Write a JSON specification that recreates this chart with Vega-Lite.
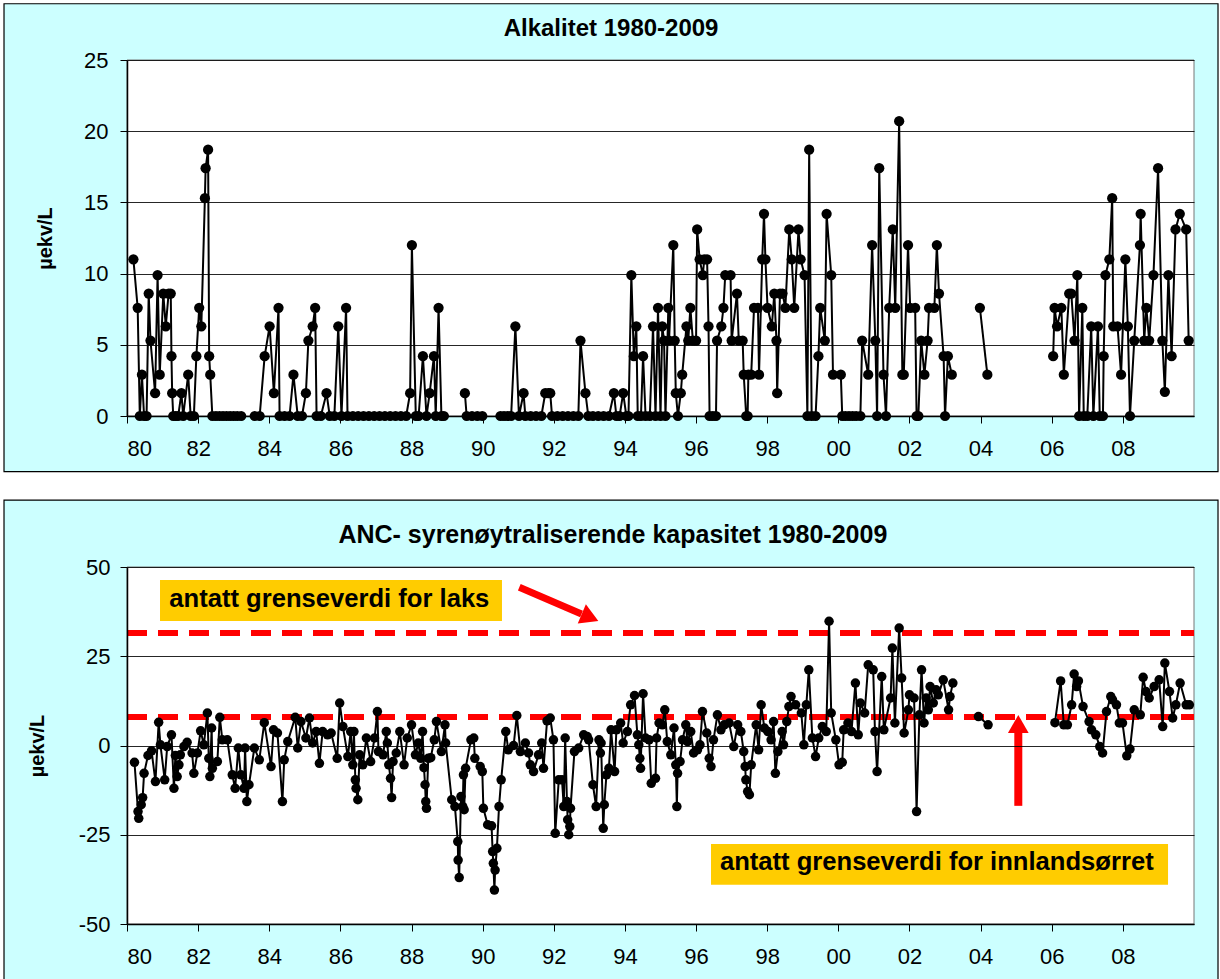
{
"$schema":"https://vega.github.io/schema/vega-lite/v6.json",
"background":"white",
"padding":{"left":3,"top":3,"right":3,"bottom":2},
"spacing":26,
"config":{
 "font":"Liberation Sans",
 "view":{"stroke":null},
 "axis":{"labelFont":"Liberation Sans","labelFontSize":22,"labelColor":"black","tickColor":"black","tickSize":7,"tickWidth":1,"domainColor":"black","domainWidth":1.5,"gridColor":"black","gridWidth":1,"gridOpacity":0.85,"titleFont":"Liberation Sans","titleFontSize":20,"titleFontWeight":"bold","titleColor":"black"}
},
"datasets":{
"alk":[
{"t":80.18,"v":11,"s":1},{"t":80.30,"v":7.6,"s":1},{"t":80.36,"v":0,"s":1},{"t":80.42,"v":2.9,"s":1},{"t":80.48,"v":0,"s":1},{"t":80.55,"v":0,"s":1},{"t":80.61,"v":8.6,"s":1},{"t":80.66,"v":5.3,"s":1},{"t":80.79,"v":1.6,"s":1},{"t":80.86,"v":9.9,"s":1},{"t":80.92,"v":2.9,"s":1},{"t":81.02,"v":8.6,"s":1},{"t":81.09,"v":6.3,"s":1},{"t":81.17,"v":8.6,"s":1},{"t":81.23,"v":8.6,"s":1},{"t":81.25,"v":4.2,"s":1},{"t":81.27,"v":1.6,"s":1},{"t":81.30,"v":0,"s":1},{"t":81.37,"v":0,"s":1},{"t":81.44,"v":0,"s":1},{"t":81.53,"v":1.6,"s":1},{"t":81.58,"v":0,"s":1},{"t":81.72,"v":2.9,"s":1},{"t":81.79,"v":0,"s":1},{"t":81.88,"v":0,"s":1},{"t":81.95,"v":4.2,"s":1},{"t":82.03,"v":7.6,"s":1},{"t":82.09,"v":6.3,"s":1},{"t":82.19,"v":15.3,"s":1},{"t":82.21,"v":17.4,"s":1},{"t":82.28,"v":18.7,"s":1},{"t":82.31,"v":4.2,"s":1},{"t":82.34,"v":2.9,"s":1},{"t":82.40,"v":0,"s":1},{"t":82.50,"v":0,"s":1},{"t":82.60,"v":0,"s":1},{"t":82.70,"v":0,"s":1},{"t":82.80,"v":0,"s":1},{"t":82.90,"v":0,"s":1},{"t":83.00,"v":0,"s":1},{"t":83.10,"v":0,"s":1},{"t":83.21,"v":0,"s":1},
{"t":83.59,"v":0,"s":2},{"t":83.73,"v":0,"s":2},{"t":83.87,"v":4.2,"s":2},{"t":84.01,"v":6.3,"s":2},{"t":84.13,"v":1.6,"s":2},{"t":84.26,"v":7.6,"s":2},{"t":84.29,"v":0,"s":2},{"t":84.43,"v":0,"s":2},{"t":84.57,"v":0,"s":2},{"t":84.68,"v":2.9,"s":2},{"t":84.80,"v":0,"s":2},{"t":84.92,"v":0,"s":2},{"t":85.03,"v":1.6,"s":2},{"t":85.10,"v":5.3,"s":2},{"t":85.22,"v":6.3,"s":2},{"t":85.29,"v":7.6,"s":2},{"t":85.33,"v":0,"s":2},{"t":85.45,"v":0,"s":2},{"t":85.61,"v":1.6,"s":2},{"t":85.70,"v":0,"s":2},{"t":85.83,"v":0,"s":2},{"t":85.94,"v":6.3,"s":2},{"t":86.03,"v":0,"s":2},{"t":86.16,"v":7.6,"s":2},{"t":86.20,"v":0,"s":2},{"t":86.35,"v":0,"s":2},{"t":86.50,"v":0,"s":2},{"t":86.65,"v":0,"s":2},{"t":86.80,"v":0,"s":2},{"t":86.95,"v":0,"s":2},{"t":87.10,"v":0,"s":2},{"t":87.25,"v":0,"s":2},{"t":87.40,"v":0,"s":2},{"t":87.55,"v":0,"s":2},{"t":87.70,"v":0,"s":2},{"t":87.85,"v":0,"s":2},{"t":87.96,"v":1.6,"s":2},{"t":88.01,"v":12,"s":2},{"t":88.12,"v":0,"s":2},{"t":88.20,"v":0,"s":2},{"t":88.32,"v":4.2,"s":2},{"t":88.42,"v":0,"s":2},{"t":88.51,"v":1.6,"s":2},{"t":88.63,"v":4.2,"s":2},{"t":88.68,"v":0,"s":2},{"t":88.76,"v":7.6,"s":2},{"t":88.84,"v":0,"s":2},{"t":88.91,"v":0,"s":2},
{"t":89.50,"v":1.6,"s":3},{"t":89.55,"v":0,"s":3},{"t":89.70,"v":0,"s":3},{"t":89.85,"v":0,"s":3},{"t":89.99,"v":0,"s":3},
{"t":90.50,"v":0,"s":4},{"t":90.60,"v":0,"s":4},{"t":90.70,"v":0,"s":4},{"t":90.80,"v":0,"s":4},{"t":90.92,"v":6.3,"s":4},{"t":91.02,"v":0,"s":4},{"t":91.15,"v":1.6,"s":4},{"t":91.20,"v":0,"s":4},{"t":91.35,"v":0,"s":4},{"t":91.50,"v":0,"s":4},{"t":91.65,"v":0,"s":4},{"t":91.76,"v":1.6,"s":4},{"t":91.85,"v":1.6,"s":4},{"t":91.90,"v":1.6,"s":4},{"t":91.95,"v":0,"s":4},{"t":92.10,"v":0,"s":4},{"t":92.25,"v":0,"s":4},{"t":92.40,"v":0,"s":4},{"t":92.55,"v":0,"s":4},{"t":92.69,"v":0,"s":4},{"t":92.75,"v":5.3,"s":4},{"t":92.89,"v":1.6,"s":4},{"t":92.97,"v":0,"s":4},{"t":93.10,"v":0,"s":4},{"t":93.25,"v":0,"s":4},{"t":93.40,"v":0,"s":4},{"t":93.55,"v":0,"s":4},{"t":93.69,"v":1.6,"s":4},{"t":93.76,"v":0,"s":4},{"t":93.85,"v":0,"s":4},{"t":93.95,"v":1.6,"s":4},{"t":94.04,"v":0,"s":4},{"t":94.10,"v":0,"s":4},{"t":94.18,"v":9.9,"s":4},{"t":94.25,"v":4.2,"s":4},{"t":94.32,"v":6.3,"s":4},{"t":94.36,"v":0,"s":4},{"t":94.45,"v":0,"s":4},{"t":94.51,"v":4.2,"s":4},{"t":94.58,"v":0,"s":4},{"t":94.70,"v":0,"s":4},{"t":94.79,"v":6.3,"s":4},{"t":94.86,"v":0,"s":4},{"t":94.93,"v":7.6,"s":4},{"t":95.00,"v":0,"s":4},{"t":95.05,"v":6.3,"s":4},{"t":95.10,"v":5.3,"s":4},{"t":95.14,"v":0,"s":4},{"t":95.22,"v":7.6,"s":4},{"t":95.24,"v":5.3,"s":4},{"t":95.36,"v":12,"s":4},{"t":95.40,"v":5.3,"s":4},{"t":95.43,"v":1.6,"s":4},{"t":95.49,"v":0,"s":4},{"t":95.57,"v":1.6,"s":4},{"t":95.61,"v":2.9,"s":4},{"t":95.73,"v":6.3,"s":4},{"t":95.78,"v":5.3,"s":4},{"t":95.84,"v":7.6,"s":4},{"t":95.91,"v":5.3,"s":4},{"t":96.00,"v":5.3,"s":4},{"t":96.03,"v":13.1,"s":4},{"t":96.10,"v":11,"s":4},{"t":96.19,"v":9.9,"s":4},{"t":96.23,"v":11,"s":4},{"t":96.31,"v":11,"s":4},{"t":96.35,"v":6.3,"s":4},{"t":96.38,"v":0,"s":4},{"t":96.47,"v":0,"s":4},{"t":96.56,"v":0,"s":4},{"t":96.59,"v":5.3,"s":4},{"t":96.71,"v":6.3,"s":4},{"t":96.77,"v":7.6,"s":4},{"t":96.82,"v":9.9,"s":4},{"t":96.97,"v":9.9,"s":4},{"t":97.00,"v":5.3,"s":4},{"t":97.15,"v":8.6,"s":4},{"t":97.20,"v":5.3,"s":4},{"t":97.31,"v":5.3,"s":4},{"t":97.34,"v":2.9,"s":4},{"t":97.41,"v":0,"s":4},{"t":97.45,"v":0,"s":4},{"t":97.47,"v":2.9,"s":4},{"t":97.55,"v":2.9,"s":4},{"t":97.63,"v":7.6,"s":4},{"t":97.74,"v":7.6,"s":4},{"t":97.77,"v":2.9,"s":4},{"t":97.86,"v":11,"s":4},{"t":97.91,"v":14.2,"s":4},{"t":97.95,"v":11,"s":4},{"t":98.01,"v":7.6,"s":4},{"t":98.13,"v":6.3,"s":4},{"t":98.20,"v":8.6,"s":4},{"t":98.26,"v":5.3,"s":4},{"t":98.28,"v":1.6,"s":4},{"t":98.36,"v":8.6,"s":4},{"t":98.43,"v":8.6,"s":4},{"t":98.51,"v":7.6,"s":4},{"t":98.62,"v":13.1,"s":4},{"t":98.69,"v":11,"s":4},{"t":98.76,"v":7.6,"s":4},{"t":98.88,"v":13.1,"s":4},{"t":98.94,"v":11,"s":4},{"t":99.05,"v":9.9,"s":4},{"t":99.13,"v":0,"s":4},{"t":99.18,"v":18.7,"s":4},{"t":99.25,"v":0,"s":4},{"t":99.36,"v":0,"s":4},{"t":99.44,"v":4.2,"s":4},{"t":99.49,"v":7.6,"s":4},{"t":99.62,"v":5.3,"s":4},{"t":99.67,"v":14.2,"s":4},{"t":99.80,"v":9.9,"s":4},{"t":99.85,"v":2.9,"s":4},{"t":100.07,"v":2.9,"s":4},{"t":100.11,"v":0,"s":4},{"t":100.20,"v":0,"s":4},{"t":100.30,"v":0,"s":4},{"t":100.40,"v":0,"s":4},{"t":100.50,"v":0,"s":4},{"t":100.62,"v":0,"s":4},{"t":100.67,"v":5.3,"s":4},{"t":100.84,"v":2.9,"s":4},{"t":100.95,"v":12,"s":4},{"t":101.04,"v":5.3,"s":4},{"t":101.09,"v":0,"s":4},{"t":101.15,"v":17.4,"s":4},{"t":101.27,"v":2.9,"s":4},{"t":101.34,"v":0,"s":4},{"t":101.43,"v":7.6,"s":4},{"t":101.53,"v":13.1,"s":4},{"t":101.60,"v":7.6,"s":4},{"t":101.71,"v":20.7,"s":4},{"t":101.80,"v":2.9,"s":4},{"t":101.84,"v":2.9,"s":4},{"t":101.96,"v":12,"s":4},{"t":102.02,"v":7.6,"s":4},{"t":102.16,"v":7.6,"s":4},{"t":102.20,"v":0,"s":4},{"t":102.25,"v":0,"s":4},{"t":102.33,"v":5.3,"s":4},{"t":102.42,"v":2.9,"s":4},{"t":102.51,"v":5.3,"s":4},{"t":102.55,"v":7.6,"s":4},{"t":102.70,"v":7.6,"s":4},{"t":102.77,"v":12,"s":4},{"t":102.83,"v":8.6,"s":4},{"t":102.96,"v":4.2,"s":4},{"t":103.00,"v":0,"s":4},{"t":103.08,"v":4.2,"s":4},{"t":103.19,"v":2.9,"s":4},
{"t":103.98,"v":7.6,"s":5},{"t":104.19,"v":2.9,"s":5},
{"t":106.04,"v":4.2,"s":6},{"t":106.08,"v":7.6,"s":6},{"t":106.15,"v":6.3,"s":6},{"t":106.27,"v":7.6,"s":6},{"t":106.34,"v":2.9,"s":6},{"t":106.49,"v":8.6,"s":6},{"t":106.55,"v":8.6,"s":6},{"t":106.64,"v":5.3,"s":6},{"t":106.72,"v":9.9,"s":6},{"t":106.77,"v":0,"s":6},{"t":106.86,"v":7.6,"s":6},{"t":106.90,"v":0,"s":6},{"t":107.00,"v":0,"s":6},{"t":107.11,"v":6.3,"s":6},{"t":107.17,"v":0,"s":6},{"t":107.30,"v":6.3,"s":6},{"t":107.35,"v":0,"s":6},{"t":107.44,"v":0,"s":6},{"t":107.46,"v":4.2,"s":6},{"t":107.51,"v":9.9,"s":6},{"t":107.62,"v":11,"s":6},{"t":107.70,"v":15.3,"s":6},{"t":107.73,"v":6.3,"s":6},{"t":107.85,"v":6.3,"s":6},{"t":107.95,"v":2.9,"s":6},{"t":108.07,"v":11,"s":6},{"t":108.14,"v":6.3,"s":6},{"t":108.20,"v":0,"s":6},{"t":108.32,"v":5.3,"s":6},{"t":108.48,"v":12,"s":6},{"t":108.50,"v":14.2,"s":6},{"t":108.60,"v":5.3,"s":6},{"t":108.66,"v":7.6,"s":6},{"t":108.74,"v":5.3,"s":6},{"t":108.86,"v":9.9,"s":6},{"t":108.99,"v":17.4,"s":6},{"t":109.11,"v":5.3,"s":6},{"t":109.18,"v":1.7,"s":6},{"t":109.28,"v":9.9,"s":6},{"t":109.37,"v":4.2,"s":6},{"t":109.48,"v":13.1,"s":6},{"t":109.60,"v":14.2,"s":6},{"t":109.78,"v":13.1,"s":6},{"t":109.85,"v":5.3,"s":6}
],
"anc":[
{"t":80.21,"v":-4.7,"s":1},{"t":80.31,"v":-18.5,"s":1},{"t":80.33,"v":-20.4,"s":1},{"t":80.40,"v":-16.6,"s":1},{"t":80.44,"v":-14.6,"s":1},{"t":80.48,"v":-7.8,"s":1},{"t":80.59,"v":-2.8,"s":1},{"t":80.69,"v":-1.5,"s":1},{"t":80.80,"v":-10.1,"s":1},{"t":80.89,"v":6.5,"s":1},{"t":80.94,"v":0.2,"s":1},{"t":81.06,"v":-9.6,"s":1},{"t":81.13,"v":-0.3,"s":1},{"t":81.25,"v":3.0,"s":1},{"t":81.32,"v":-12.0,"s":1},{"t":81.36,"v":-2.8,"s":1},{"t":81.41,"v":-8.7,"s":1},{"t":81.46,"v":-5.4,"s":1},{"t":81.50,"v":-2.6,"s":1},{"t":81.60,"v":-0.3,"s":1},{"t":81.69,"v":0.9,"s":1},{"t":81.83,"v":-2.1,"s":1},{"t":81.88,"v":-7.8,"s":1},{"t":81.98,"v":-2.1,"s":1},{"t":82.07,"v":4.1,"s":1},{"t":82.16,"v":0.2,"s":1},{"t":82.26,"v":9.1,"s":1},{"t":82.30,"v":-3.6,"s":1},{"t":82.33,"v":-8.7,"s":1},{"t":82.38,"v":4.9,"s":1},{"t":82.40,"v":-6.4,"s":1},{"t":82.54,"v":-4.5,"s":1},{"t":82.61,"v":7.9,"s":1},{"t":82.68,"v":1.6,"s":1},{"t":82.82,"v":1.6,"s":1},{"t":82.96,"v":-8.2,"s":1},{"t":83.04,"v":-12.0,"s":1},{"t":83.13,"v":-0.7,"s":1},{"t":83.20,"v":-8.2,"s":1},{"t":83.29,"v":-12.0,"s":1},{"t":83.32,"v":-0.7,"s":1},{"t":83.37,"v":-15.7,"s":1},{"t":83.43,"v":-11.0,"s":1},{"t":83.58,"v":-0.7,"s":1},{"t":83.72,"v":-4.0,"s":1},{"t":83.86,"v":6.4,"s":1},{"t":84.05,"v":-5.9,"s":1},{"t":84.12,"v":4.4,"s":1},{"t":84.23,"v":3.5,"s":1},{"t":84.37,"v":-15.7,"s":1},{"t":84.42,"v":-4.0,"s":1},{"t":84.52,"v":1.1,"s":1},{"t":84.73,"v":7.9,"s":1},{"t":84.80,"v":-0.7,"s":1},{"t":84.89,"v":6.7,"s":1},{"t":85.03,"v":2.1,"s":1},{"t":85.13,"v":7.7,"s":1},{"t":85.22,"v":0.7,"s":1},{"t":85.32,"v":3.9,"s":1},{"t":85.41,"v":-5.0,"s":1},{"t":85.50,"v":3.9,"s":1},{"t":85.64,"v":3.0,"s":1},{"t":85.74,"v":3.5,"s":1},{"t":85.91,"v":-3.6,"s":1},{"t":85.98,"v":11.9,"s":1},{"t":86.07,"v":5.3,"s":1},{"t":86.21,"v":-3.1,"s":1},{"t":86.29,"v":3.9,"s":1},{"t":86.35,"v":-5.4,"s":1},{"t":86.38,"v":3.9,"s":1},{"t":86.42,"v":-9.6,"s":1},{"t":86.44,"v":-12.0,"s":1},{"t":86.49,"v":-15.2,"s":1},{"t":86.54,"v":-2.6,"s":1},{"t":86.63,"v":-5.4,"s":1},{"t":86.73,"v":2.1,"s":1},{"t":86.85,"v":-4.5,"s":1},{"t":86.96,"v":2.1,"s":1},{"t":87.04,"v":9.5,"s":1},{"t":87.07,"v":-1.7,"s":1},{"t":87.20,"v":-2.6,"s":1},{"t":87.29,"v":3.9,"s":1},{"t":87.32,"v":0.7,"s":1},{"t":87.36,"v":-5.4,"s":1},{"t":87.41,"v":-9.2,"s":1},{"t":87.44,"v":-14.6,"s":1},{"t":87.48,"v":-4.5,"s":1},{"t":87.57,"v":-2.1,"s":1},{"t":87.67,"v":3.9,"s":1},{"t":87.79,"v":-5.4,"s":1},{"t":87.88,"v":2.1,"s":1},{"t":88.00,"v":5.8,"s":1},{"t":88.11,"v":-2.6,"s":1},{"t":88.19,"v":0.7,"s":1},{"t":88.26,"v":-3.6,"s":1},{"t":88.31,"v":3.9,"s":1},{"t":88.35,"v":-6.2,"s":1},{"t":88.38,"v":-11.0,"s":1},{"t":88.40,"v":-15.7,"s":1},{"t":88.42,"v":-17.6,"s":1},{"t":88.47,"v":-3.6,"s":1},{"t":88.54,"v":-3.4,"s":1},{"t":88.64,"v":1.6,"s":1},{"t":88.70,"v":6.7,"s":1},{"t":88.84,"v":-1.7,"s":1},{"t":88.94,"v":5.8,"s":1},{"t":88.96,"v":0.7,"s":1},{"t":89.13,"v":-15.2,"s":1},{"t":89.22,"v":-17.1,"s":1},{"t":89.30,"v":-26.9,"s":1},{"t":89.31,"v":-32.1,"s":1},{"t":89.34,"v":-37.0,"s":1},{"t":89.39,"v":-14.3,"s":1},{"t":89.44,"v":-17.1,"s":1},{"t":89.46,"v":-8.2,"s":1},{"t":89.48,"v":-18.0,"s":1},{"t":89.52,"v":-6.4,"s":1},{"t":89.67,"v":1.6,"s":1},{"t":89.75,"v":2.1,"s":1},{"t":89.78,"v":-3.6,"s":1},{"t":89.93,"v":-5.9,"s":1},{"t":89.99,"v":-7.3,"s":1},{"t":90.02,"v":-17.6,"s":1},{"t":90.14,"v":-22.2,"s":1},{"t":90.25,"v":-22.5,"s":1},{"t":90.28,"v":-29.7,"s":1},{"t":90.30,"v":-33.0,"s":1},{"t":90.33,"v":-40.5,"s":1},{"t":90.35,"v":-34.9,"s":1},{"t":90.40,"v":-28.8,"s":1},{"t":90.46,"v":-17.1,"s":1},{"t":90.52,"v":-9.6,"s":1},{"t":90.65,"v":3.9,"s":1},{"t":90.72,"v":-1.2,"s":1},{"t":90.87,"v":0.0,"s":1},{"t":90.96,"v":8.4,"s":1},{"t":91.06,"v":-1.7,"s":1},{"t":91.20,"v":0.7,"s":1},{"t":91.29,"v":-2.1,"s":1},{"t":91.34,"v":-5.4,"s":1},{"t":91.43,"v":-7.3,"s":1},{"t":91.57,"v":-2.6,"s":1},{"t":91.66,"v":0.7,"s":1},{"t":91.71,"v":-6.4,"s":1},{"t":91.81,"v":6.9,"s":1},{"t":91.90,"v":7.7,"s":1},{"t":91.99,"v":1.6,"s":1},{"t":92.04,"v":-24.6,"s":1},{"t":92.14,"v":-9.6,"s":1},{"t":92.23,"v":-9.6,"s":1},{"t":92.28,"v":-17.1,"s":1},{"t":92.32,"v":2.1,"s":1},{"t":92.37,"v":-15.7,"s":1},{"t":92.39,"v":-20.8,"s":1},{"t":92.42,"v":-25.0,"s":1},{"t":92.45,"v":-22.7,"s":1},{"t":92.47,"v":-17.6,"s":1},{"t":92.58,"v":-1.7,"s":1},{"t":92.70,"v":-0.7,"s":1},{"t":92.84,"v":3.0,"s":1},{"t":92.94,"v":2.5,"s":1},{"t":92.98,"v":1.6,"s":1},{"t":93.10,"v":-11.0,"s":1},{"t":93.19,"v":-17.1,"s":1},{"t":93.27,"v":1.6,"s":1},{"t":93.31,"v":-2.1,"s":1},{"t":93.33,"v":0.7,"s":1},{"t":93.39,"v":-23.2,"s":1},{"t":93.42,"v":-16.6,"s":1},{"t":93.48,"v":-8.2,"s":1},{"t":93.55,"v":-6.4,"s":1},{"t":93.61,"v":4.4,"s":1},{"t":93.71,"v":-7.3,"s":1},{"t":93.76,"v":4.4,"s":1},{"t":93.88,"v":6.3,"s":1},{"t":93.95,"v":0.7,"s":1},{"t":94.07,"v":3.9,"s":1},{"t":94.16,"v":11.4,"s":1},{"t":94.27,"v":14.0,"s":1},{"t":94.35,"v":3.0,"s":1},{"t":94.39,"v":0.2,"s":1},{"t":94.42,"v":-3.6,"s":1},{"t":94.44,"v":-6.4,"s":1},{"t":94.51,"v":14.5,"s":1},{"t":94.58,"v":2.1,"s":1},{"t":94.68,"v":1.6,"s":1},{"t":94.74,"v":-10.6,"s":1},{"t":94.86,"v":-9.2,"s":1},{"t":94.89,"v":2.1,"s":1},{"t":94.96,"v":6.3,"s":1},{"t":95.05,"v":5.8,"s":1},{"t":95.12,"v":10.0,"s":1},{"t":95.19,"v":1.1,"s":1},{"t":95.29,"v":-2.6,"s":1},{"t":95.38,"v":4.9,"s":1},{"t":95.43,"v":-5.4,"s":1},{"t":95.46,"v":-17.1,"s":1},{"t":95.48,"v":-7.8,"s":1},{"t":95.55,"v":-4.5,"s":1},{"t":95.62,"v":1.6,"s":1},{"t":95.71,"v":5.8,"s":1},{"t":95.76,"v":1.1,"s":1},{"t":95.85,"v":3.9,"s":1},{"t":95.93,"v":-2.1,"s":1},{"t":96.04,"v":-1.2,"s":1},{"t":96.11,"v":0.2,"s":1},{"t":96.18,"v":9.5,"s":1},{"t":96.30,"v":3.5,"s":1},{"t":96.37,"v":-3.6,"s":1},{"t":96.42,"v":-5.9,"s":1},{"t":96.49,"v":1.6,"s":1},{"t":96.60,"v":8.6,"s":1},{"t":96.70,"v":4.4,"s":1},{"t":96.79,"v":5.8,"s":1},{"t":96.93,"v":6.3,"s":1},{"t":97.06,"v":-0.3,"s":1},{"t":97.17,"v":5.8,"s":1},{"t":97.26,"v":3.9,"s":1},{"t":97.34,"v":-1.7,"s":1},{"t":97.38,"v":-5.9,"s":1},{"t":97.40,"v":-9.6,"s":1},{"t":97.45,"v":-12.9,"s":1},{"t":97.50,"v":-13.8,"s":1},{"t":97.55,"v":-5.4,"s":1},{"t":97.69,"v":5.8,"s":1},{"t":97.76,"v":-1.2,"s":1},{"t":97.83,"v":11.4,"s":1},{"t":97.92,"v":4.9,"s":1},{"t":98.02,"v":3.9,"s":1},{"t":98.11,"v":1.6,"s":1},{"t":98.18,"v":6.7,"s":1},{"t":98.23,"v":-7.8,"s":1},{"t":98.30,"v":-1.7,"s":1},{"t":98.42,"v":3.9,"s":1},{"t":98.46,"v":0.2,"s":1},{"t":98.55,"v":6.7,"s":1},{"t":98.61,"v":10.9,"s":1},{"t":98.67,"v":13.7,"s":1},{"t":98.80,"v":11.4,"s":1},{"t":98.96,"v":9.1,"s":1},{"t":99.03,"v":0.2,"s":1},{"t":99.10,"v":11.4,"s":1},{"t":99.17,"v":21.2,"s":1},{"t":99.27,"v":2.1,"s":1},{"t":99.36,"v":-3.1,"s":1},{"t":99.45,"v":2.1,"s":1},{"t":99.55,"v":5.3,"s":1},{"t":99.66,"v":3.9,"s":1},{"t":99.74,"v":34.8,"s":1},{"t":99.80,"v":9.1,"s":1},{"t":99.93,"v":1.6,"s":1},{"t":100.02,"v":-5.4,"s":1},{"t":100.11,"v":-4.7,"s":1},{"t":100.15,"v":4.4,"s":1},{"t":100.27,"v":6.3,"s":1},{"t":100.37,"v":3.9,"s":1},{"t":100.48,"v":17.5,"s":1},{"t":100.56,"v":3.0,"s":1},{"t":100.62,"v":11.9,"s":1},{"t":100.74,"v":9.1,"s":1},{"t":100.84,"v":22.6,"s":1},{"t":100.98,"v":21.2,"s":1},{"t":101.03,"v":3.9,"s":1},{"t":101.09,"v":-7.3,"s":1},{"t":101.22,"v":19.3,"s":1},{"t":101.28,"v":4.4,"s":1},{"t":101.47,"v":13.3,"s":1},{"t":101.52,"v":27.3,"s":1},{"t":101.59,"v":6.3,"s":1},{"t":101.71,"v":32.9,"s":1},{"t":101.78,"v":18.9,"s":1},{"t":101.85,"v":3.5,"s":1},{"t":101.97,"v":10.0,"s":1},{"t":102.00,"v":14.2,"s":1},{"t":102.13,"v":13.3,"s":1},{"t":102.20,"v":-18.5,"s":1},{"t":102.28,"v":8.6,"s":1},{"t":102.34,"v":21.2,"s":1},{"t":102.41,"v":6.3,"s":1},{"t":102.47,"v":13.3,"s":1},{"t":102.53,"v":10.0,"s":1},{"t":102.58,"v":16.5,"s":1},{"t":102.67,"v":11.9,"s":1},{"t":102.75,"v":15.6,"s":1},{"t":102.81,"v":14.2,"s":1},{"t":102.95,"v":18.4,"s":1},{"t":103.10,"v":10.0,"s":1},{"t":103.14,"v":13.7,"s":1},{"t":103.22,"v":17.5,"s":1},
{"t":103.94,"v":8.1,"s":2},{"t":104.21,"v":5.8,"s":2},
{"t":106.09,"v":6.4,"s":3},{"t":106.25,"v":18.1,"s":3},{"t":106.34,"v":5.8,"s":3},{"t":106.44,"v":5.8,"s":3},{"t":106.56,"v":11.4,"s":3},{"t":106.63,"v":20.0,"s":3},{"t":106.70,"v":16.5,"s":3},{"t":106.75,"v":18.1,"s":3},{"t":106.88,"v":10.9,"s":3},{"t":107.05,"v":6.7,"s":3},{"t":107.12,"v":4.4,"s":3},{"t":107.24,"v":3.0,"s":3},{"t":107.35,"v":-0.3,"s":3},{"t":107.43,"v":-2.1,"s":3},{"t":107.54,"v":9.5,"s":3},{"t":107.66,"v":13.7,"s":3},{"t":107.71,"v":12.8,"s":3},{"t":107.82,"v":11.4,"s":3},{"t":107.90,"v":6.3,"s":3},{"t":107.99,"v":6.3,"s":3},{"t":108.11,"v":-2.9,"s":3},{"t":108.20,"v":-1.0,"s":3},{"t":108.32,"v":10.0,"s":3},{"t":108.49,"v":8.6,"s":3},{"t":108.57,"v":19.1,"s":3},{"t":108.65,"v":15.1,"s":3},{"t":108.74,"v":13.3,"s":3},{"t":108.88,"v":16.5,"s":3},{"t":109.02,"v":18.4,"s":3},{"t":109.12,"v":5.3,"s":3},{"t":109.18,"v":23.1,"s":3},{"t":109.31,"v":15.1,"s":3},{"t":109.40,"v":7.7,"s":3},{"t":109.49,"v":11.4,"s":3},{"t":109.61,"v":17.5,"s":3},{"t":109.78,"v":11.4,"s":3},{"t":109.87,"v":11.4,"s":3}
]
},
"vconcat":[
{
 "width":1067,"height":356,
 "layer":[
  {"data":{"values":[{}]},"mark":{"type":"rect","fill":"#CCFFFF","stroke":"black","strokeWidth":1.2},
   "encoding":{
    "x":{"datum":76.542,"type":"quantitative","scale":{"domain":[80,110],"nice":false,"zero":false},"axis":{"title":null,"zindex":1,"values":[80,82,84,86,88,90,92,94,96,98,100,102,104,106,108],"labelExpr":"datum.value >= 100 ? '0' + (datum.value - 100) : '' + datum.value","labelPadding":15,"grid":false}},
    "x2":{"datum":110.675},
    "y":{"datum":-3.91,"type":"quantitative","scale":{"domain":[0,25],"nice":false,"zero":false},"axis":{"title":"µekv/L","zindex":1,"values":[0,5,10,15,20,25],"labelExpr":"'' + datum.value","labelPadding":12,"titlePadding":28,"grid":true}},
    "y2":{"datum":28.95}}},
  {"data":{"values":[{}]},"mark":{"type":"rect","fill":"white","stroke":"#777777","strokeWidth":1},
   "encoding":{
    "x":{"datum":80,"type":"quantitative","scale":{"domain":[80,110],"nice":false,"zero":false},"axis":{"title":null,"zindex":1,"values":[80,82,84,86,88,90,92,94,96,98,100,102,104,106,108],"labelExpr":"datum.value >= 100 ? '0' + (datum.value - 100) : '' + datum.value","labelPadding":15,"grid":false}},
    "x2":{"datum":110},
    "y":{"datum":0,"type":"quantitative","scale":{"domain":[0,25],"nice":false,"zero":false},"axis":{"title":"µekv/L","zindex":1,"values":[0,5,10,15,20,25],"labelExpr":"'' + datum.value","labelPadding":12,"titlePadding":28,"grid":true}},
    "y2":{"datum":25}}},
  {"data":{"values":[{}]},"mark":{"type":"text","text":"Alkalitet 1980-2009","align":"center","baseline":"alphabetic","font":"Liberation Sans","fontSize":24,"fontWeight":"bold","color":"black"},
   "encoding":{
    "x":{"datum":93.61,"type":"quantitative","scale":{"domain":[80,110],"nice":false,"zero":false},"axis":{"title":null,"zindex":1,"values":[80,82,84,86,88,90,92,94,96,98,100,102,104,106,108],"labelExpr":"datum.value >= 100 ? '0' + (datum.value - 100) : '' + datum.value","labelPadding":15,"grid":false}},
    "y":{"datum":26.68,"type":"quantitative","scale":{"domain":[0,25],"nice":false,"zero":false},"axis":{"title":"µekv/L","zindex":1,"values":[0,5,10,15,20,25],"labelExpr":"'' + datum.value","labelPadding":12,"titlePadding":28,"grid":true}}}},
  {"data":{"name":"alk"},"mark":{"type":"line","color":"black","strokeWidth":2,"point":{"filled":true,"size":105,"color":"black","opacity":1}},
   "encoding":{
    "x":{"field":"t","type":"quantitative","scale":{"domain":[80,110],"nice":false,"zero":false},"axis":{"title":null,"zindex":1,"values":[80,82,84,86,88,90,92,94,96,98,100,102,104,106,108],"labelExpr":"datum.value >= 100 ? '0' + (datum.value - 100) : '' + datum.value","labelPadding":15,"grid":false}},
    "y":{"field":"v","type":"quantitative","scale":{"domain":[0,25],"nice":false,"zero":false},"axis":{"title":"µekv/L","zindex":1,"values":[0,5,10,15,20,25],"labelExpr":"'' + datum.value","labelPadding":12,"titlePadding":28,"grid":true}},
    "detail":{"field":"s","type":"nominal"}}}
 ]
},
{
 "width":1067,"height":357,
 "layer":[
  {"data":{"values":[{}]},"mark":{"type":"rect","fill":"#CCFFFF","stroke":"black","strokeWidth":1.2},
   "encoding":{
    "x":{"datum":76.542,"type":"quantitative","scale":{"domain":[80,110],"nice":false,"zero":false},"axis":{"title":null,"zindex":1,"values":[80,82,84,86,88,90,92,94,96,98,100,102,104,106,108],"labelExpr":"datum.value >= 100 ? '0' + (datum.value - 100) : '' + datum.value","labelPadding":15,"grid":false}},
    "x2":{"datum":110.675},
    "y":{"datum":-65.68,"type":"quantitative","scale":{"domain":[-50,50],"nice":false,"zero":false},"axis":{"title":"µekv/L","zindex":1,"values":[-50,-25,0,25,50],"labelExpr":"'' + datum.value","labelPadding":10,"titlePadding":31,"grid":true}},
    "y2":{"datum":68.76}}},
  {"data":{"values":[{}]},"mark":{"type":"rect","fill":"white","stroke":"#777777","strokeWidth":1},
   "encoding":{
    "x":{"datum":80,"type":"quantitative","scale":{"domain":[80,110],"nice":false,"zero":false},"axis":{"title":null,"zindex":1,"values":[80,82,84,86,88,90,92,94,96,98,100,102,104,106,108],"labelExpr":"datum.value >= 100 ? '0' + (datum.value - 100) : '' + datum.value","labelPadding":15,"grid":false}},
    "x2":{"datum":110},
    "y":{"datum":-50,"type":"quantitative","scale":{"domain":[-50,50],"nice":false,"zero":false},"axis":{"title":"µekv/L","zindex":1,"values":[-50,-25,0,25,50],"labelExpr":"'' + datum.value","labelPadding":10,"titlePadding":31,"grid":true}},
    "y2":{"datum":50}}},
  {"data":{"values":[{}]},"mark":{"type":"text","text":"ANC- syrenøytraliserende kapasitet 1980-2009","align":"center","baseline":"alphabetic","font":"Liberation Sans","fontSize":25,"fontWeight":"bold","color":"black"},
   "encoding":{
    "x":{"datum":93.66,"type":"quantitative","scale":{"domain":[80,110],"nice":false,"zero":false},"axis":{"title":null,"zindex":1,"values":[80,82,84,86,88,90,92,94,96,98,100,102,104,106,108],"labelExpr":"datum.value >= 100 ? '0' + (datum.value - 100) : '' + datum.value","labelPadding":15,"grid":false}},
    "y":{"datum":56.86,"type":"quantitative","scale":{"domain":[-50,50],"nice":false,"zero":false},"axis":{"title":"µekv/L","zindex":1,"values":[-50,-25,0,25,50],"labelExpr":"'' + datum.value","labelPadding":10,"titlePadding":31,"grid":true}}}},
  {"data":{"values":[{}]},"mark":{"type":"rule","color":"#FF0000","strokeWidth":6,"strokeDash":[20,11]},
   "encoding":{
    "x":{"datum":80,"type":"quantitative","scale":{"domain":[80,110],"nice":false,"zero":false},"axis":{"title":null,"zindex":1,"values":[80,82,84,86,88,90,92,94,96,98,100,102,104,106,108],"labelExpr":"datum.value >= 100 ? '0' + (datum.value - 100) : '' + datum.value","labelPadding":15,"grid":false}},
    "x2":{"datum":110},
    "y":{"datum":31.5,"type":"quantitative","scale":{"domain":[-50,50],"nice":false,"zero":false},"axis":{"title":"µekv/L","zindex":1,"values":[-50,-25,0,25,50],"labelExpr":"'' + datum.value","labelPadding":10,"titlePadding":31,"grid":true}}}},
  {"data":{"values":[{}]},"mark":{"type":"rule","color":"#FF0000","strokeWidth":6,"strokeDash":[20,11]},
   "encoding":{
    "x":{"datum":80,"type":"quantitative","scale":{"domain":[80,110],"nice":false,"zero":false},"axis":{"title":null,"zindex":1,"values":[80,82,84,86,88,90,92,94,96,98,100,102,104,106,108],"labelExpr":"datum.value >= 100 ? '0' + (datum.value - 100) : '' + datum.value","labelPadding":15,"grid":false}},
    "x2":{"datum":110},
    "y":{"datum":8,"type":"quantitative","scale":{"domain":[-50,50],"nice":false,"zero":false},"axis":{"title":"µekv/L","zindex":1,"values":[-50,-25,0,25,50],"labelExpr":"'' + datum.value","labelPadding":10,"titlePadding":31,"grid":true}}}},
  {"data":{"values":[{}]},"mark":{"type":"rect","fill":"#FFCC00"},
   "encoding":{
    "x":{"datum":80.928,"type":"quantitative","scale":{"domain":[80,110],"nice":false,"zero":false},"axis":{"title":null,"zindex":1,"values":[80,82,84,86,88,90,92,94,96,98,100,102,104,106,108],"labelExpr":"datum.value >= 100 ? '0' + (datum.value - 100) : '' + datum.value","labelPadding":15,"grid":false}},
    "x2":{"datum":90.543},
    "y":{"datum":34.88,"type":"quantitative","scale":{"domain":[-50,50],"nice":false,"zero":false},"axis":{"title":"µekv/L","zindex":1,"values":[-50,-25,0,25,50],"labelExpr":"'' + datum.value","labelPadding":10,"titlePadding":31,"grid":true}},
    "y2":{"datum":46.36}}},
  {"data":{"values":[{}]},"mark":{"type":"rect","fill":"#FFCC00"},
   "encoding":{
    "x":{"datum":96.42,"type":"quantitative","scale":{"domain":[80,110],"nice":false,"zero":false},"axis":{"title":null,"zindex":1,"values":[80,82,84,86,88,90,92,94,96,98,100,102,104,106,108],"labelExpr":"datum.value >= 100 ? '0' + (datum.value - 100) : '' + datum.value","labelPadding":15,"grid":false}},
    "x2":{"datum":109.27},
    "y":{"datum":-39.04,"type":"quantitative","scale":{"domain":[-50,50],"nice":false,"zero":false},"axis":{"title":"µekv/L","zindex":1,"values":[-50,-25,0,25,50],"labelExpr":"'' + datum.value","labelPadding":10,"titlePadding":31,"grid":true}},
    "y2":{"datum":-27.56}}},
  {"data":{"values":[{}]},"mark":{"type":"text","text":"antatt grenseverdi for laks","align":"left","baseline":"alphabetic","font":"Liberation Sans","fontSize":25.6,"fontWeight":"bold","color":"black"},
   "encoding":{
    "x":{"datum":81.19,"type":"quantitative","scale":{"domain":[80,110],"nice":false,"zero":false},"axis":{"title":null,"zindex":1,"values":[80,82,84,86,88,90,92,94,96,98,100,102,104,106,108],"labelExpr":"datum.value >= 100 ? '0' + (datum.value - 100) : '' + datum.value","labelPadding":15,"grid":false}},
    "y":{"datum":38.72,"type":"quantitative","scale":{"domain":[-50,50],"nice":false,"zero":false},"axis":{"title":"µekv/L","zindex":1,"values":[-50,-25,0,25,50],"labelExpr":"'' + datum.value","labelPadding":10,"titlePadding":31,"grid":true}}}},
  {"data":{"values":[{}]},"mark":{"type":"text","text":"antatt grenseverdi for innlandsørret","align":"left","baseline":"alphabetic","font":"Liberation Sans","fontSize":25.6,"fontWeight":"bold","color":"black"},
   "encoding":{
    "x":{"datum":96.67,"type":"quantitative","scale":{"domain":[80,110],"nice":false,"zero":false},"axis":{"title":null,"zindex":1,"values":[80,82,84,86,88,90,92,94,96,98,100,102,104,106,108],"labelExpr":"datum.value >= 100 ? '0' + (datum.value - 100) : '' + datum.value","labelPadding":15,"grid":false}},
    "y":{"datum":-34.76,"type":"quantitative","scale":{"domain":[-50,50],"nice":false,"zero":false},"axis":{"title":"µekv/L","zindex":1,"values":[-50,-25,0,25,50],"labelExpr":"'' + datum.value","labelPadding":10,"titlePadding":31,"grid":true}}}},
  {"data":{"values":[{}]},"mark":{"type":"rule","color":"#FF0000","strokeWidth":7},
   "encoding":{
    "x":{"datum":91.03,"type":"quantitative","scale":{"domain":[80,110],"nice":false,"zero":false},"axis":{"title":null,"zindex":1,"values":[80,82,84,86,88,90,92,94,96,98,100,102,104,106,108],"labelExpr":"datum.value >= 100 ? '0' + (datum.value - 100) : '' + datum.value","labelPadding":15,"grid":false}},
    "x2":{"datum":92.78},
    "y":{"datum":44.32,"type":"quantitative","scale":{"domain":[-50,50],"nice":false,"zero":false},"axis":{"title":"µekv/L","zindex":1,"values":[-50,-25,0,25,50],"labelExpr":"'' + datum.value","labelPadding":10,"titlePadding":31,"grid":true}},
    "y2":{"datum":36.84}}},
  {"data":{"values":[{}]},"mark":{"type":"point","shape":"triangle-right","filled":true,"color":"#FF0000","opacity":1,"size":430,"angle":23},
   "encoding":{
    "x":{"datum":93.02,"type":"quantitative","scale":{"domain":[80,110],"nice":false,"zero":false},"axis":{"title":null,"zindex":1,"values":[80,82,84,86,88,90,92,94,96,98,100,102,104,106,108],"labelExpr":"datum.value >= 100 ? '0' + (datum.value - 100) : '' + datum.value","labelPadding":15,"grid":false}},
    "y":{"datum":35.89,"type":"quantitative","scale":{"domain":[-50,50],"nice":false,"zero":false},"axis":{"title":"µekv/L","zindex":1,"values":[-50,-25,0,25,50],"labelExpr":"'' + datum.value","labelPadding":10,"titlePadding":31,"grid":true}}}},
  {"data":{"values":[{}]},"mark":{"type":"rule","color":"#FF0000","strokeWidth":8},
   "encoding":{
    "x":{"datum":105.06,"type":"quantitative","scale":{"domain":[80,110],"nice":false,"zero":false},"axis":{"title":null,"zindex":1,"values":[80,82,84,86,88,90,92,94,96,98,100,102,104,106,108],"labelExpr":"datum.value >= 100 ? '0' + (datum.value - 100) : '' + datum.value","labelPadding":15,"grid":false}},
    "y":{"datum":-16.9,"type":"quantitative","scale":{"domain":[-50,50],"nice":false,"zero":false},"axis":{"title":"µekv/L","zindex":1,"values":[-50,-25,0,25,50],"labelExpr":"'' + datum.value","labelPadding":10,"titlePadding":31,"grid":true}},
    "y2":{"datum":5.5}}},
  {"data":{"values":[{}]},"mark":{"type":"point","shape":"triangle-up","filled":true,"color":"#FF0000","opacity":1,"size":430},
   "encoding":{
    "x":{"datum":105.06,"type":"quantitative","scale":{"domain":[80,110],"nice":false,"zero":false},"axis":{"title":null,"zindex":1,"values":[80,82,84,86,88,90,92,94,96,98,100,102,104,106,108],"labelExpr":"datum.value >= 100 ? '0' + (datum.value - 100) : '' + datum.value","labelPadding":15,"grid":false}},
    "y":{"datum":6.04,"type":"quantitative","scale":{"domain":[-50,50],"nice":false,"zero":false},"axis":{"title":"µekv/L","zindex":1,"values":[-50,-25,0,25,50],"labelExpr":"'' + datum.value","labelPadding":10,"titlePadding":31,"grid":true}}}},
  {"data":{"name":"anc"},"mark":{"type":"line","color":"black","strokeWidth":2,"point":{"filled":true,"size":90,"color":"black","opacity":1}},
   "encoding":{
    "x":{"field":"t","type":"quantitative","scale":{"domain":[80,110],"nice":false,"zero":false},"axis":{"title":null,"zindex":1,"values":[80,82,84,86,88,90,92,94,96,98,100,102,104,106,108],"labelExpr":"datum.value >= 100 ? '0' + (datum.value - 100) : '' + datum.value","labelPadding":15,"grid":false}},
    "y":{"field":"v","type":"quantitative","scale":{"domain":[-50,50],"nice":false,"zero":false},"axis":{"title":"µekv/L","zindex":1,"values":[-50,-25,0,25,50],"labelExpr":"'' + datum.value","labelPadding":10,"titlePadding":31,"grid":true}},
    "detail":{"field":"s","type":"nominal"}}}
 ]
}
]
}
